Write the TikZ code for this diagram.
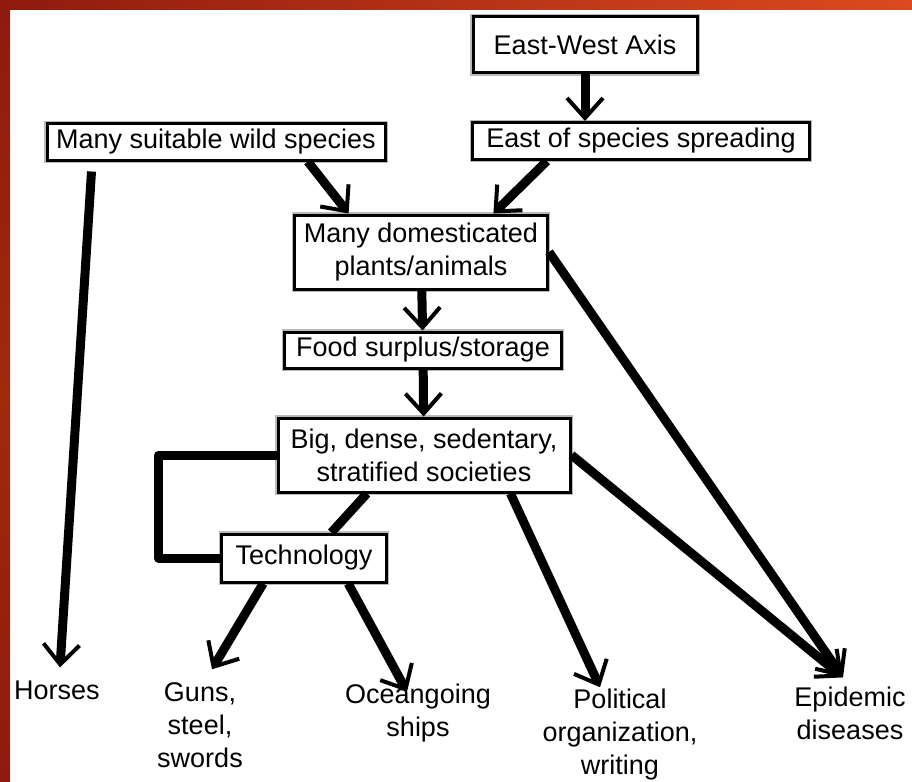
\documentclass[tikz,border=0pt]{standalone}
\usepackage{fontspec}
\setmainfont{Liberation Sans}
\usepackage{tikz}
\usetikzlibrary{arrows.meta,calc}

\definecolor{frameleft}{HTML}{8E1B0E}
\definecolor{frameright}{HTML}{DC4A1E}

\begin{document}
\begin{tikzpicture}[
  x=1pt, y=-1pt,
  font=\fontsize{27}{33}\selectfont,
  causebox/.style={draw, line width=3pt, preaction={draw=gray!55, line width=5.5pt}, fill=white, align=center, inner sep=2pt},
  leaf/.style={align=center, inner sep=0pt},
  link/.style={line width=9pt, line join=round},
  arr/.style={link, -{Straight Barb[length=20pt, width=36pt, line width=4pt]}}
]
\useasboundingbox (0,0) rectangle (912,781);
% frame
\shade[left color=frameleft, right color=frameright] (0,0) rectangle (912,10);
\shade[top color=frameleft, bottom color=frameleft, middle color=frameleft!85!orange] (0,10) rectangle (10,781);

\node[causebox, minimum width=224, minimum height=56] (axis) at (585,45) {East-West Axis};
\node[causebox, minimum width=338, minimum height=36] (wild) at (216,142) {Many suitable wild species};
\node[causebox, minimum width=337, minimum height=37] (spread) at (641,141) {East of species spreading};
\node[causebox, minimum width=253, minimum height=74] (domest) at (421,252) {Many domesticated\\plants/animals};
\node[causebox, minimum width=277, minimum height=36] (food) at (423,350) {Food surplus/storage};
\node[causebox, minimum width=292, minimum height=74] (big) at (424,455) {Big, dense, sedentary,\\stratified societies};
\node[causebox, minimum width=165, minimum height=48] (tech) at (304,558) {Technology};

\node[leaf] (horses) at (57,690) {Horses};
\node[leaf] (guns) at (200,725) {Guns,\\steel,\\swords};
\node[leaf] (ships) at (418,713) {Oceangoing\\ships};
\node[leaf] (polit) at (620,735) {Political\\organization,\\writing};
\node[leaf] (epid) at (850,713) {Epidemic\\diseases};

\draw[arr] (axis.south) -- (axis.south |- spread.north);
\draw[arr] (wild.-12) -- (domest.152);
\draw[arr] (spread.-168) -- (domest.28);
\draw[arr] (domest) -- (food);
\draw[arr] (food) -- (big);
\draw[arr] ($(wild.south west)+(46,10)$) -- ($(horses.north)+(3,-13)$);
\draw[arr] (domest.east) -- ($(epid.north)+(-7,-9)$);
\draw[arr] (big.east) -- ($(epid.north)+(-7,-9)$);
\draw[arr] (big.-24) -- ($(polit.north)+(-20,-2)$);
\draw[link] (big.-146) -- (tech.43);
\draw[link] (big.west) -- ++(-118,0) |- (tech.west);
\draw[arr] (tech.-148) -- ($(guns.north)+(12,-13)$);
\draw[arr] (tech.-30) -- ($(ships.north)+(-11,8)$);
\end{tikzpicture}
\end{document}
